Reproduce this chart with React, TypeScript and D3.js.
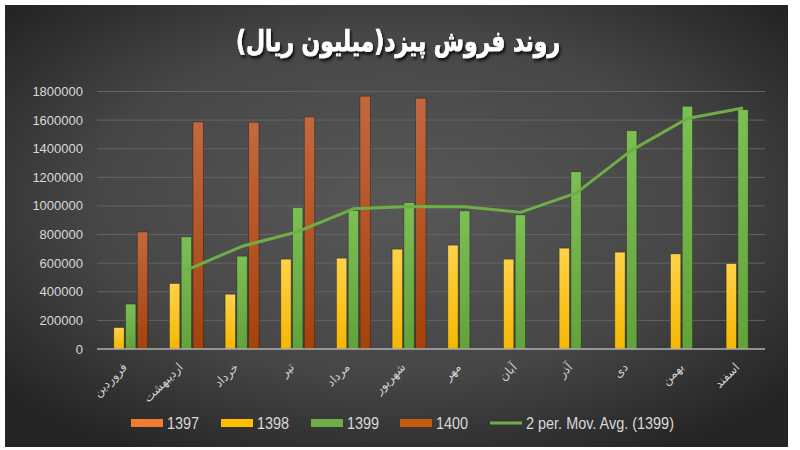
import React from 'react';
import * as d3 from 'd3';

const months = ['فروردین', 'اردیبهشت', 'خرداد', 'تیر', 'مرداد', 'شهریور', 'مهر', 'آبان', 'آذر', 'دی', 'بهمن', 'اسفند'];
const seriesNames = ['1397', '1398', '1399', '1400'];
const s1397: (number | null)[] = [null, null, null, null, null, null, null, null, null, null, null, null];
const s1398: (number | null)[] = [150000, 458000, 383000, 628000, 635000, 698000, 726000, 628000, 705000, 677000, 665000, 597000];
const s1399: (number | null)[] = [314000, 784000, 649000, 990000, 968000, 1024000, 966000, 938000, 1239000, 1526000, 1697000, 1673000];
const s1400: (number | null)[] = [818000, 1587000, 1585000, 1622000, 1767000, 1753000, null, null, null, null, null, null];
const movAvg1399: (number | null)[] = [null, 552000, 718000, 820000, 980000, 996000, 995000, 955000, 1090000, 1390000, 1611000, 1685000];
const yTicks = [0, 200000, 400000, 600000, 800000, 1000000, 1200000, 1400000, 1600000, 1800000];
const title = 'روند فروش پیزد(میلیون ریال)';
const lineLegend = '2 per. Mov. Avg. (1399)';

const seriesValues = [s1397, s1398, s1399, s1400];
const seriesColors = ['#ED7D31', '#FFC000', '#70AD47', '#C55A11'];
const gradStops: [string, string][] = [
  ['#f39358', '#e06a1c'],
  ['#ffd24a', '#f5b700'],
  ['#7cbf55', '#62a23b'],
  ['#c4683f', '#a5420a'],
];
const lineColor = '#6fae46';

export default function App() {
  const W = 800, H = 450;
  const left = 97, right = 765, top = 91.5, bottom = 349;
  const x0 = d3.scaleBand<string>().domain(months).range([left, right]).paddingInner(0.155).paddingOuter(0.0775);
  const x1 = d3.scaleBand<string>().domain(seriesNames).range([0, x0.bandwidth()]).paddingInner(0.12).paddingOuter(0.06);
  const y = d3.scaleLinear().domain([0, 1800000]).range([bottom, top]);

  const linePts = months
    .map((m, i) => ({ m, v: movAvg1399[i] }))
    .filter((d) => d.v != null) as { m: string; v: number }[];
  const lineGen = d3
    .line<{ m: string; v: number }>()
    .x((d) => (x0(d.m) as number) + (x1('1399') as number) + x1.bandwidth() / 2)
    .y((d) => y(d.v));

  const legendItems = [
    { label: '1397', color: seriesColors[0], type: 'rect', x: 131 },
    { label: '1398', color: seriesColors[1], type: 'rect', x: 221 },
    { label: '1399', color: seriesColors[2], type: 'rect', x: 311 },
    { label: '1400', color: seriesColors[3], type: 'rect', x: 400 },
    { label: lineLegend, color: lineColor, type: 'line', x: 490 },
  ];

  return (
    <svg width={W} height={H} style={{ position: 'fixed', left: 0, top: 0, background: '#ffffff' }}>
      <defs>
        <radialGradient id="bg" cx="50%" cy="45%" r="65%">
          <stop offset="0%" stopColor="#585858" />
          <stop offset="60%" stopColor="#464646" />
          <stop offset="100%" stopColor="#252525" />
        </radialGradient>
        {gradStops.map((g, i) => (
          <linearGradient key={i} id={`g${i}`} x1="0" y1="0" x2="0" y2="1">
            <stop offset="0%" stopColor={g[0]} />
            <stop offset="100%" stopColor={g[1]} />
          </linearGradient>
        ))}
        <filter id="tshadow" x="-10%" y="-30%" width="120%" height="160%">
          <feDropShadow dx="2" dy="2.5" stdDeviation="1.5" floodColor="#000" floodOpacity="0.8" />
        </filter>
      </defs>
      <rect x={5} y={5} width={783} height={442} fill="url(#bg)" />

      <g transform="translate(398,51) scale(0.81,1.05)">
        <text
          x={0}
          y={0}
          textAnchor="middle"
          direction="rtl"
          fontFamily="DejaVu Sans"
          fontWeight="bold"
          fontSize={27}
          fill="#ffffff"
          stroke="#ffffff"
          strokeWidth={0.7}
          filter="url(#tshadow)"
        >
          {title}
        </text>
      </g>

      {yTicks.map((t) => (
        <g key={t}>
          {t > 0 && <line x1={left} x2={right} y1={y(t)} y2={y(t)} stroke="#646464" strokeWidth={1} />}
          <text
            x={83}
            y={y(t)}
            dy="0.35em"
            textAnchor="end"
            fontFamily="Liberation Sans"
            fontSize={13}
            fill="#d9d9d9"
          >
            {t}
          </text>
        </g>
      ))}

      {months.map((m, i) => (
        <g key={m}>
          {seriesValues.map((s, si) => {
            const v = s[i];
            if (v == null) return null;
            const bx = (x0(m) as number) + (x1(seriesNames[si]) as number);
            return (
              <rect
                key={si}
                x={bx}
                y={y(v)}
                width={x1.bandwidth()}
                height={y(0) - y(v)}
                fill={`url(#g${si})`}
                stroke="rgba(20,20,20,0.45)"
                strokeWidth={0.8}
              />
            );
          })}
        </g>
      ))}

      <line x1={left} x2={right} y1={y(0)} y2={y(0)} stroke="#b0b0b0" strokeWidth={1.5} />

      <path d={lineGen(linePts) || ''} fill="none" stroke={lineColor} strokeWidth={3} strokeLinejoin="round" />

      {months.map((m) => {
        const cx = (x0(m) as number) + x0.bandwidth() / 2;
        return (
          <text
            key={m}
            transform={`translate(${cx + 3},${368}) rotate(-45)`}
            textAnchor="end"
            fontFamily="DejaVu Sans"
            fontSize={12}
            fill="#d0d0d0"
          >
            {m}
          </text>
        );
      })}

      {legendItems.map((it) => (
        <g key={it.label}>
          {it.type === 'rect' ? (
            <rect x={it.x} y={419} width={32} height={8} fill={it.color} />
          ) : (
            <line x1={it.x} x2={it.x + 32} y1={423} y2={423} stroke={it.color} strokeWidth={3} />
          )}
          <g transform={`translate(${it.x + 36},${423}) scale(0.85,1)`}>
            <text x={0} y={0} dy="0.36em" fontFamily="Liberation Sans" fontSize={17} fill="#d9d9d9">
              {it.label}
            </text>
          </g>
        </g>
      ))}
    </svg>
  );
}
